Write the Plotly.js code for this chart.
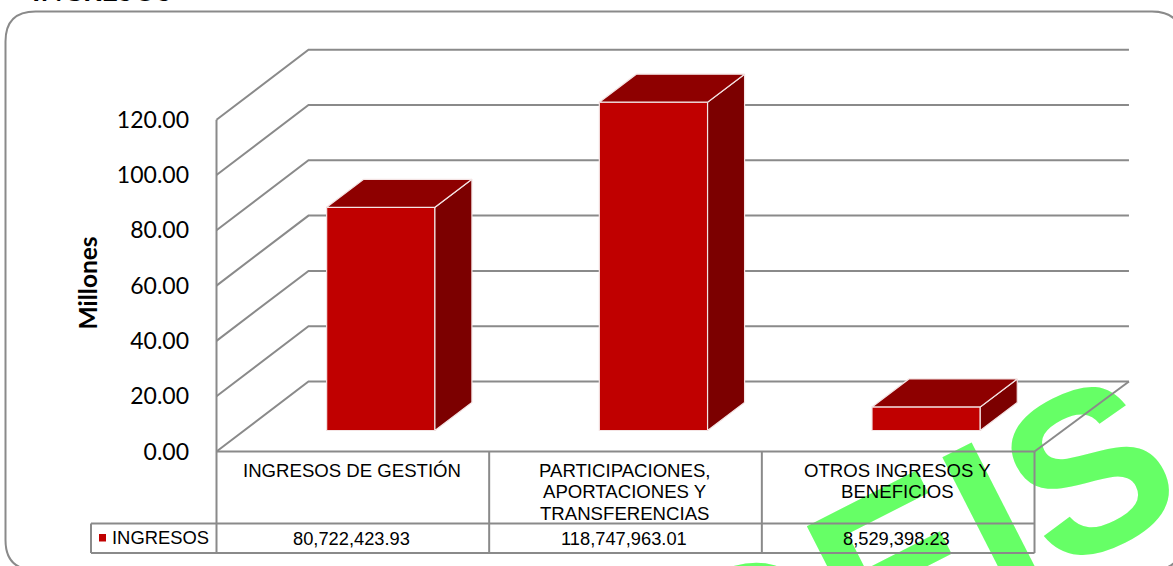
<!DOCTYPE html>
<html>
<head>
<meta charset="utf-8">
<script src="https://cdn.plot.ly/plotly-3.0.1.min.js"></script>
<style>html,body{margin:0;padding:0;background:#fff;overflow:hidden}#chart{width:1173px;height:566px}</style>
</head>
<body>
<div id="chart"></div>
<script>
// ---- data ----
const categories = [["INGRESOS DE GESTIÓN"], ["PARTICIPACIONES,", "APORTACIONES Y", "TRANSFERENCIAS"], ["OTROS INGRESOS Y", "BENEFICIOS"]];
const seriesName = "INGRESOS";
const values = [80722423.93, 118747963.01, 8529398.23];
const yTicks = [0, 20, 40, 60, 80, 100, 120];
const yTitle = "Millones";
const chartTitle = "INGRESOS";
const watermark = "DEIS";

// ---- layout constants ----
const W = 1173, H = 566;
const plot = {l: 200, r: 1140, t: 40, b: 456};
const x0px = 216.5, catPx = 272.67, y0px = 451.5, unitPx = 2.765;
const xRange = [-0.5 - (x0px - plot.l) / catPx, -0.5 + (plot.r - x0px) / catPx];
const yRange = [-(plot.b - y0px) / unitPx, (y0px - plot.t) / unitPx];
const wallDX = 92 / catPx, wallDY = 70 / unitPx;      // depth of the floor
const barDX = 37 / catPx, barDY = 28 / unitPx;        // depth of a bar
const barBase = 21 / unitPx;
const barOffset = -0.096, barWidth = 0.397;
const GRAY = "#8a8a8a", FRONT = "#C00000", TOP = "#8E0000", SIDE = "#7C0000", GREEN = "#66FF66";

const px = v => (v - plot.l) / (plot.r - plot.l);  // page x -> paper
const py = v => (plot.b - v) / (plot.b - plot.t);  // page y -> paper
const millions = values.map(v => v / 1e6);
const fmt = v => v.toLocaleString("en-US", {minimumFractionDigits: 2, maximumFractionDigits: 2});

// ---- 3D faces of every bar, from the values ----
const topX = [], topY = [], sideX = [], sideY = [];
millions.forEach((v, i) => {
  const a = i + barOffset, b = a + barWidth, t = barBase + v;
  topX.push(a, b, b + barDX, a + barDX, a, null);
  topY.push(t, t, t + barDY, t + barDY, t, null);
  sideX.push(b, b, b + barDX, b + barDX, b, null);
  sideY.push(barBase, t, t + barDY, barBase + barDY, barBase, null);
});

const traces = [
  {type: "bar", name: seriesName, x: [0, 1, 2], y: millions, base: barBase, width: barWidth, offset: barOffset,
   marker: {color: FRONT, line: {color: "#f4e4e4", width: 1.2}}, showlegend: false, cliponaxis: false},
  {type: "scatter", mode: "lines", x: sideX, y: sideY, fill: "toself", fillcolor: SIDE,
   line: {color: "#f4e4e4", width: 1.2}, showlegend: false, hoverinfo: "skip", cliponaxis: false},
  {type: "scatter", mode: "lines", x: topX, y: topY, fill: "toself", fillcolor: TOP,
   line: {color: "#f4e4e4", width: 1.2}, showlegend: false, hoverinfo: "skip", cliponaxis: false}
];

// ---- shapes ----
const line = {color: GRAY, width: 2};
const shapes = [];
// watermark (behind everything)
const wm = {cx: 909, cy: 537};
shapes.push({type: "line", layer: "below", xref: "paper", yref: "paper",
  x0: px(wm.cx - 60), x1: px(wm.cx + 60), y0: py(wm.cy + 34.6), y1: py(wm.cy - 34.6),
  line: {width: 0, color: "rgba(0,0,0,0)"},
  label: {text: watermark, textangle: -27, textposition: "middle", xanchor: "center", yanchor: "middle",
          font: {family: "Liberation Sans", size: 228, color: GREEN, weight: "bold"}}});
// chart frame
const f = {l: 5.5, t: 11.5, r: 1182, b: 570, c: 30};
shapes.push({type: "path", layer: "below", xref: "paper", yref: "paper", line: {color: GRAY, width: 2},
  path: `M${px(f.l)},${py(f.t + f.c)} Q${px(f.l)},${py(f.t)} ${px(f.l + f.c)},${py(f.t)} L${px(f.r - f.c)},${py(f.t)} Q${px(f.r)},${py(f.t)} ${px(f.r)},${py(f.t + f.c)} L${px(f.r)},${py(f.b - f.c)} Q${px(f.r)},${py(f.b)} ${px(f.r - f.c)},${py(f.b)} L${px(f.l + f.c)},${py(f.b)} Q${px(f.l)},${py(f.b)} ${px(f.l)},${py(f.b - f.c)} Z`});
// wall gridlines, from the tick values
yTicks.forEach(t => {
  shapes.push({type: "path", layer: "below", xref: "x", yref: "y", line,
    path: `M-0.5,${t} L${-0.5 + wallDX},${t + wallDY} L${2.5 + wallDX + 0.009},${t + wallDY}`});
});
// floor right edge, front edge, left wall edge
shapes.push({type: "line", layer: "below", xref: "x", yref: "y", x0: 2.5, y0: 0, x1: 2.5 + wallDX + 0.009, y1: wallDY, line});
shapes.push({type: "line", layer: "below", xref: "x", yref: "y", x0: -0.5, y0: 0, x1: 2.5, y1: 0, line});
// axis line and table columns
const yTableTop = 523.5, yTableBottom = 553, xLegendCell = 91;
shapes.push({type: "line", layer: "below", xref: "x", yref: "paper", x0: -0.5, x1: -0.5, y0: py(yTableBottom), y1: py(y0px - 120 * unitPx), line});
[0.5, 1.5, 2.5].forEach(c => shapes.push({type: "line", layer: "below", xref: "x", yref: "paper", x0: c, x1: c, y0: py(yTableBottom), y1: py(y0px), line}));
[yTableTop, yTableBottom].forEach(r => shapes.push({type: "line", layer: "below", xref: "paper", yref: "paper", x0: px(xLegendCell), x1: px(x0px + 3 * catPx), y0: py(r), y1: py(r), line}));
shapes.push({type: "line", layer: "below", xref: "paper", yref: "paper", x0: px(xLegendCell), x1: px(xLegendCell), y0: py(yTableTop), y1: py(yTableBottom), line});
// legend key
shapes.push({type: "rect", layer: "above", xref: "paper", yref: "paper", x0: px(99), x1: px(106), y0: py(534), y1: py(541.5), fillcolor: FRONT, line: {width: 0}});

// ---- text ----
const tableFont = {family: "Liberation Sans", size: 18.3, color: "#000"};
const catFont = {family: "Liberation Sans", size: 18.6, color: "#000"};
const catLine0 = 470.5, catLineStep = 21.5;
const annotations = [];
categories.forEach((lines, i) => lines.forEach((t, j) => annotations.push({xref: "x", yref: "paper", x: i - 0.003, y: py(catLine0 + j * catLineStep), text: t, showarrow: false,
  xanchor: "center", yanchor: "middle", align: "center", font: catFont, borderpad: 0})));
values.forEach((v, i) => annotations.push({xref: "x", yref: "paper", x: i - 0.005, y: py(538.5), text: fmt(v), showarrow: false,
  xanchor: "center", yanchor: "middle", font: tableFont, borderpad: 0}));
annotations.push({xref: "paper", yref: "paper", x: px(111), y: py(537.5), text: seriesName, showarrow: false, xanchor: "left", yanchor: "middle",
  font: {family: "Liberation Sans", size: 18.4, color: "#000"}, borderpad: 0});
annotations.push({xref: "paper", yref: "paper", x: px(86.5), y: py(283), text: yTitle, showarrow: false, textangle: -90, xanchor: "center", yanchor: "middle",
  font: {family: "Lato", size: 24.5, color: "#000", weight: "bold"}});

const layout = {
  width: W, height: H, paper_bgcolor: "#fff", plot_bgcolor: "rgba(0,0,0,0)",
  margin: {l: plot.l, r: W - plot.r, t: plot.t, b: H - plot.b, pad: 0},
  showlegend: false, barmode: "overlay",
  title: {text: chartTitle, x: 32 / W, xanchor: "left", xref: "container", y: 1 - 0.5 / H, yanchor: "bottom", yref: "container",
          font: {family: "Lato", size: 28.5, color: "#000", weight: "bold"}, pad: {t: 0, b: 0, l: 0, r: 0}},
  xaxis: {type: "linear", range: xRange, showgrid: false, zeroline: false, showline: false, ticks: "", showticklabels: false, fixedrange: true},
  yaxis: {type: "linear", range: yRange, showgrid: false, zeroline: false, showline: false, ticks: "", tickmode: "array", tickvals: yTicks,
          tickformat: ".2f", ticklabelstandoff: 10, ticklabelshift: -1.5, tickfont: {family: "Lato", size: 23, color: "#000"}, fixedrange: true},
  shapes, annotations
};
Plotly.newPlot("chart", traces, layout, {displayModeBar: false, responsive: false});
</script>
</body>
</html>
